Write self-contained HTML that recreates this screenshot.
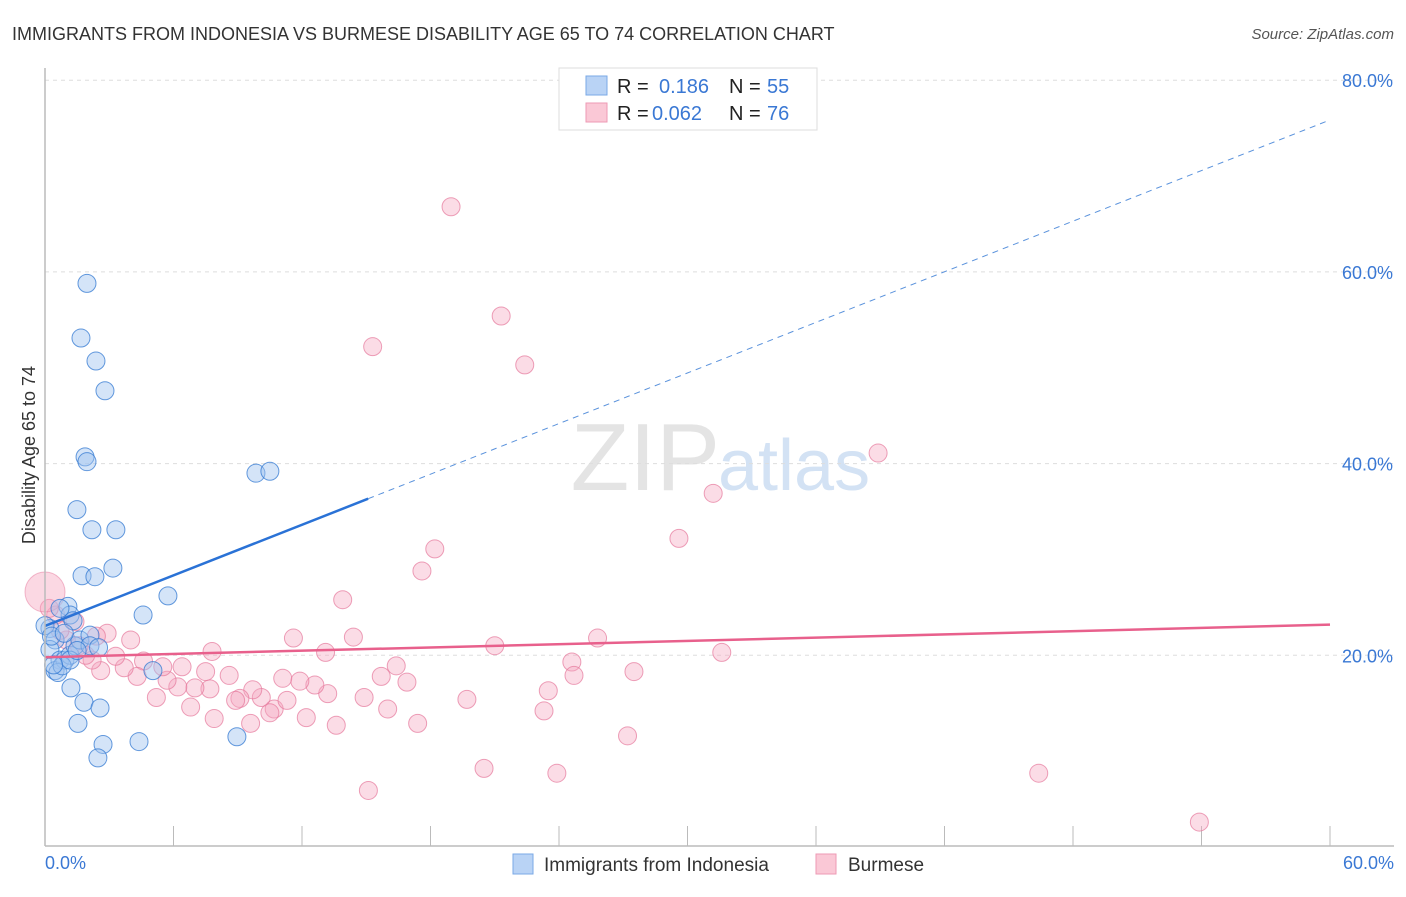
<!DOCTYPE html>
<html><head><meta charset="utf-8"><style>
body{margin:0;background:#fff;font-family:"Liberation Sans",sans-serif;}
svg text{font-family:"Liberation Sans",sans-serif;}
</style></head><body>
<svg id="c" width="1406" height="892" xmlns="http://www.w3.org/2000/svg">
<text x="12" y="40" font-size="18" fill="#333">IMMIGRANTS FROM INDONESIA VS BURMESE DISABILITY AGE 65 TO 74 CORRELATION CHART</text>
<text x="1394" y="39" font-size="15" fill="#555" font-style="italic" text-anchor="end">Source: ZipAtlas.com</text>
<text x="35" y="455" font-size="18" fill="#333" transform="rotate(-90 35 455)" text-anchor="middle">Disability Age 65 to 74</text>
<text x="720" y="490" font-size="96" fill="#e4e4e4" text-anchor="end" font-family="Liberation Serif">ZIP</text>
<text x="718" y="490" font-size="72" fill="#d3e2f4">atlas</text>
<g id="grid"></g><g id="pts"></g><g id="lines"></g>
<line x1="45" y1="68" x2="45" y2="846" stroke="#bbb" stroke-width="1.5"/>
<line x1="45" y1="846" x2="1394" y2="846" stroke="#bbb" stroke-width="1.5"/>
<text x="45" y="869" font-size="18" fill="#3a78d4">0.0%</text>
<text x="1394" y="869" font-size="18" fill="#3a78d4" text-anchor="end">60.0%</text>
<g>
<rect x="559" y="68" width="258" height="62" fill="#fff" stroke="#ddd"/>
<rect x="586" y="76" width="21" height="19" fill="#b9d3f5" stroke="#7aa8e6"/>
<rect x="586" y="103" width="21" height="19" fill="#fac8d6" stroke="#ee9ab4"/>
<text x="617" y="93" font-size="20" fill="#222">R =</text><text x="659" y="93" font-size="20" fill="#3a78d4">0.186</text>
<text x="729" y="93" font-size="20" fill="#222">N =</text><text x="767" y="93" font-size="20" fill="#3a78d4">55</text>
<text x="617" y="120" font-size="20" fill="#222">R =</text><text x="652" y="120" font-size="20" fill="#3a78d4">0.062</text>
<text x="729" y="120" font-size="20" fill="#222">N =</text><text x="767" y="120" font-size="20" fill="#3a78d4">76</text>
</g>
<g>
<rect x="513" y="854" width="20" height="20" fill="#b9d3f5" stroke="#7aa8e6"/>
<text x="544" y="871" font-size="19" fill="#333">Immigrants from Indonesia</text>
<rect x="816" y="854" width="20" height="20" fill="#fac8d6" stroke="#ee9ab4"/>
<text x="848" y="871" font-size="19" fill="#333">Burmese</text>
</g>
</svg>
<script>
const yTicks=[20,40,60,80];
const blueX=[1.96,1.68,2.38,2.80,1.87,1.96,9.85,10.5,1.49,2.19,3.31,3.17,1.73,2.33,5.74,4.58,1.07,1.17,1.31,0.7,0.23,0,0.47,0.23,0.7,0.47,0.93,1.17,1.4,1.63,2.1,2.1,0.6,0.8,1.17,5.04,1.21,1.82,2.57,1.54,2.71,4.39,8.96,2.47,0.3,0.9,1.5,0.4,2.5];
const blueY=[58.8,53.1,50.7,47.6,40.7,40.2,39.0,39.2,35.2,33.1,33.1,29.1,28.3,28.2,26.2,24.2,25.1,24.2,23.6,24.9,22.8,23.1,21.6,20.6,19.5,18.4,19.5,20.0,21.0,21.6,22.1,21.0,18.2,18.9,19.5,18.4,16.6,15.1,14.5,12.9,10.7,11.0,11.5,9.3,22.0,22.3,20.5,19.0,20.8];
const pinkX=[18.96,21.3,15.3,22.4,38.9,31.2,29.6,18.2,17.6,13.9,25.8,14.4,11.6,21.0,31.6,24.6,24.7,27.5,23.5,23.3,19.7,16.9,16.4,15.7,16.0,17.4,14.9,13.6,13.2,12.6,13.1,11.9,11.1,12.2,10.7,11.3,10.1,10.5,9.7,9.1,8.9,9.6,8.6,7.8,7.9,7.7,7.5,7.0,6.8,6.2,6.4,5.2,5.7,5.5,4.6,4.3,3.7,4.0,2.9,3.3,2.6,2.2,1.9,1.0,0.7,0.5,0.2,1.4,20.5,23.9,27.2,15.1,46.4,53.9,1.6,2.4];
const pinkY=[66.8,55.4,52.2,50.3,41.1,36.9,32.2,31.1,28.8,25.8,21.8,21.9,21.8,21.0,20.3,19.3,17.9,18.3,16.3,14.2,15.4,17.2,18.9,17.8,14.4,12.9,15.6,12.7,16.0,16.9,20.3,17.3,17.6,13.5,14.4,15.3,15.6,14.0,16.4,15.5,15.3,12.9,17.9,20.4,13.4,16.5,18.3,16.6,14.6,16.7,18.8,15.6,17.4,18.8,19.4,17.8,18.7,21.6,22.3,19.9,18.4,19.5,20.0,21.6,22.6,24.2,24.9,23.5,8.2,7.7,11.6,5.9,7.7,2.6,21.0,22.0];
const blueTrend=[23.06,75.85];const blueSolidEnd=15.09;
const pinkTrend=[19.8,23.2];
const NS='http://www.w3.org/2000/svg';
const sx=v=>45+v/60*1285, sy=v=>847-v/20*191.7;
function mk(tag,at,parent){const e=document.createElementNS(NS,tag);for(const k in at)e.setAttribute(k,at[k]);document.getElementById(parent).appendChild(e);return e;}
yTicks.forEach(t=>{
 const l=mk('line',{x1:45,x2:1394,y1:sy(t),y2:sy(t),stroke:'#ddd','stroke-dasharray':'4,4'},'grid');
 
 
 const tx=mk('text',{x:1393,y:sy(t)+7,'font-size':18,fill:'#3a78d4','text-anchor':'end'},'grid');
 tx.textContent=t.toFixed(1)+'%';
 
 
});
for(let i=1;i<=10;i++){const x=45+i*128.5;const l=mk('line',{x1:x,x2:x,y1:826,y2:846,stroke:'#bbb'},'grid');
 
 }
pinkX.forEach((v,i)=>{const c=mk('circle',{cx:sx(v),cy:sy(pinkY[i]),r:9,fill:'rgba(246,168,192,0.4)',stroke:'rgba(230,120,155,0.7)','stroke-width':1},'pts');
 
 });
const big=mk('circle',{cx:sx(0),cy:sy(26.6),r:20,fill:'rgba(246,168,192,0.45)',stroke:'rgba(230,120,155,0.5)'},'pts');


blueX.forEach((v,i)=>{const c=mk('circle',{cx:sx(v),cy:sy(blueY[i]),r:9,fill:'rgba(160,196,240,0.45)',stroke:'rgba(50,120,210,0.75)','stroke-width':1},'pts');
 
 });
const bAt=x=>blueTrend[0]+(blueTrend[1]-blueTrend[0])*x/60;
const b1=mk('line',{x1:sx(0),y1:sy(bAt(0)),x2:sx(blueSolidEnd),y2:sy(bAt(blueSolidEnd)),stroke:'#2a72d6','stroke-width':2.5},'lines');


const b2=mk('line',{x1:sx(blueSolidEnd),y1:sy(bAt(blueSolidEnd)),x2:sx(60),y2:sy(bAt(60)),stroke:'#5a92dc','stroke-width':1,'stroke-dasharray':'6,5'},'lines');


const p1=mk('line',{x1:sx(0),y1:sy(pinkTrend[0]),x2:sx(60),y2:sy(pinkTrend[1]),stroke:'#e8608c','stroke-width':2.5},'lines');


</script>
</body></html>
